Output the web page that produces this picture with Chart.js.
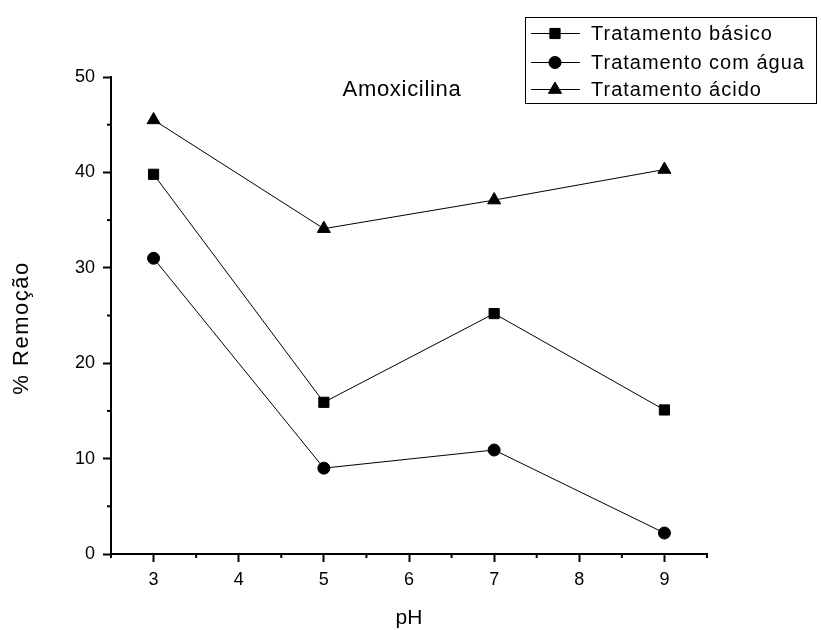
<!DOCTYPE html>
<html>
<head>
<meta charset="utf-8">
<script src="https://cdn.jsdelivr.net/npm/chart.js@4.4.1/dist/chart.umd.min.js"></script>
<style>
  body { margin: 0; background: #fff; }
  canvas { display: block; }
</style>
</head>
<body>
<canvas id="chart" width="821" height="630"></canvas>
<script>
// pH values on the x axis
const phValues = [3, 5, 7, 9];

// % removal per treatment
const basico = [39.8, 15.9, 25.2, 15.1];
const agua = [31.0, 9.0, 10.9, 2.2];
const acido = [45.5, 34.1, 37.1, 40.3];

const seriesNames = ["Tratamento básico", "Tratamento com água", "Tratamento ácido"];
const seriesStyles = ["rect", "circle", "triangle"];
const seriesRadius = [7.2, 6, 7.5];

const xTicks = [3, 4, 5, 6, 7, 8, 9];
const yTicks = [0, 10, 20, 30, 40, 50];

const plotTitle = "Amoxicilina";
const xTitle = "pH";
const yTitle = "% Remoção";
const font = "'Liberation Sans', Arial, sans-serif";

function toPoints(values) {
    return values.map((v, i) => ({ x: phValues[i], y: v }));
}

function makeDataset(idx, values) {
    return {
        label: seriesNames[idx],
        data: toPoints(values),
        borderColor: '#000',
        borderWidth: 1,
        backgroundColor: '#000',
        pointStyle: seriesStyles[idx],
        pointRadius: seriesRadius[idx],
        pointHoverRadius: seriesRadius[idx],
        pointBorderWidth: 1,
        pointBackgroundColor: '#000',
        pointBorderColor: '#000',
        tension: 0
    };
}

// minor ticks, titles and legend box
const extras = {
    id: 'extras',
    afterDraw(chart) {
        const ctx = chart.ctx;
        const xs = chart.scales.x;
        const ys = chart.scales.y;
        const bottom = chart.chartArea.bottom;
        const left = chart.chartArea.left;
        ctx.save();
        ctx.strokeStyle = '#000';
        ctx.lineWidth = 2;
        for (let v = 2.5; v <= 9.5; v += 1) {
            const px = xs.getPixelForValue(v);
            ctx.beginPath();
            ctx.moveTo(px, bottom);
            ctx.lineTo(px, bottom + 4);
            ctx.stroke();
        }
        for (let v = 5; v < 50; v += 10) {
            const py = ys.getPixelForValue(v);
            ctx.beginPath();
            ctx.moveTo(left, py);
            ctx.lineTo(left - 4, py);
            ctx.stroke();
        }

        ctx.fillStyle = '#000';
        ctx.textAlign = 'center';
        ctx.textBaseline = 'middle';

        ctx.font = '22px ' + font;
        ctx.letterSpacing = '0.7px';
        ctx.fillText(plotTitle, 402, 90);

        // axis titles
        ctx.font = '21px ' + font;
        ctx.letterSpacing = '0px';
        ctx.fillText(xTitle, 409, 618);

        ctx.save();
        ctx.translate(22, 328);
        ctx.rotate(-Math.PI / 2);
        ctx.font = '22px ' + font;
        ctx.letterSpacing = '1.5px';
        ctx.fillText(yTitle, 0, 0);
        ctx.restore();

        // legend
        ctx.lineWidth = 1;
        ctx.strokeRect(525.5, 17.5, 291, 86);
        ctx.font = '20px ' + font;
        ctx.letterSpacing = '1px';
        ctx.textAlign = 'left';
        const rows = [33, 62, 89];
        chart.data.datasets.forEach((ds, i) => {
            const y = rows[i];
            ctx.beginPath();
            ctx.moveTo(531, y + 0.5);
            ctx.lineTo(580, y + 0.5);
            ctx.stroke();
            Chart.helpers.drawPoint(ctx, {
                pointStyle: ds.pointStyle,
                radius: ds.pointRadius,
                borderWidth: 1
            }, 555, y + 0.5);
            ctx.fill();
            ctx.fillText(ds.label, 591, y + 1);
        });
        ctx.restore();
    }
};

new Chart(document.getElementById('chart'), {
    type: 'line',
    data: {
        datasets: [makeDataset(0, basico), makeDataset(1, agua), makeDataset(2, acido)]
    },
    options: {
        responsive: false,
        animation: false,
        devicePixelRatio: 1,
        layout: { padding: { left: 0, right: 114, top: 77, bottom: 0 } },
        plugins: {
            legend: { display: false },
            tooltip: { enabled: false }
        },
        scales: {
            x: {
                type: 'linear',
                min: 2.5,
                max: 9.5,
                afterFit: s => { s.height = 76; },
                afterBuildTicks: s => { s.ticks = xTicks.map(v => ({ value: v })); },
                border: { display: true, color: '#000', width: 2 },
                grid: { drawOnChartArea: false, drawTicks: true, tickLength: 8, tickColor: '#000', tickWidth: 2 },
                ticks: { color: '#000', font: { family: font, size: 18 }, padding: 7 }
            },
            y: {
                min: 0,
                max: 50,
                afterFit: s => { s.width = 111; },
                afterBuildTicks: s => { s.ticks = yTicks.map(v => ({ value: v })); },
                border: { display: true, color: '#000', width: 2 },
                grid: { drawOnChartArea: false, drawTicks: true, tickLength: 8, tickColor: '#000', tickWidth: 2 },
                ticks: { color: '#000', font: { family: font, size: 18 }, padding: 8 }
            }
        }
    },
    plugins: [extras]
});
</script>
</body>
</html>
